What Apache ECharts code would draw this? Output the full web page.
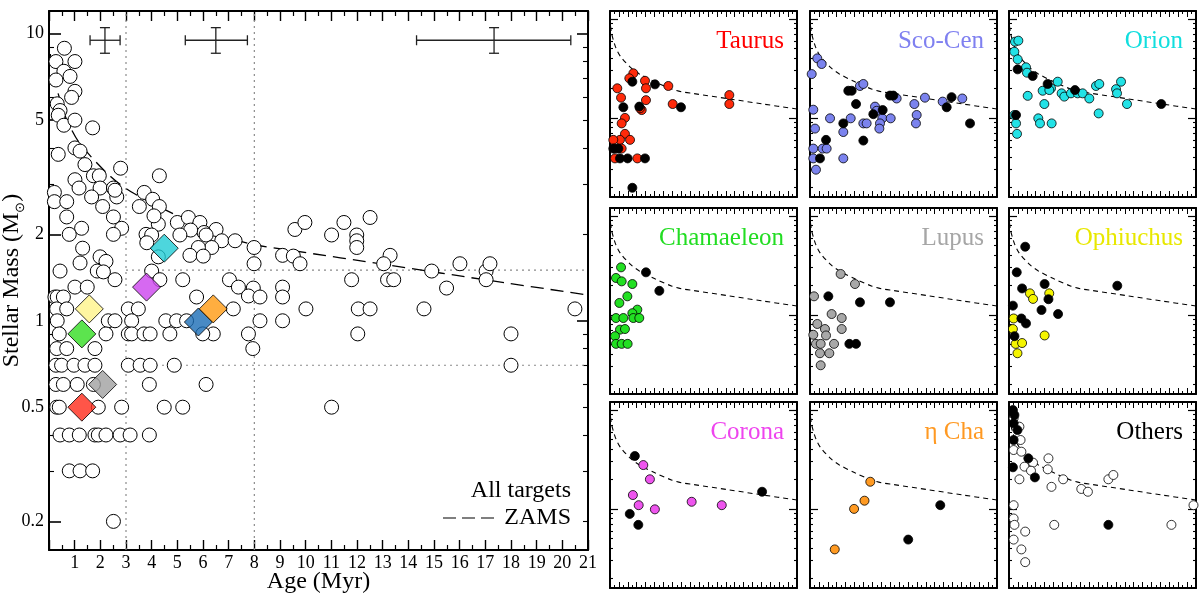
<!DOCTYPE html>
<html><head><meta charset="utf-8">
<script src="https://cdn.jsdelivr.net/npm/echarts@6/dist/echarts.min.js"></script>
<style>html,body{margin:0;padding:0;background:#fff}#c{width:1200px;height:600px}</style>
</head><body><div id="c"></div>
<script>
// ---------------- data ----------------
const xTickLabels = [1,2,3,4,5,6,7,8,9,10,11,12,13,14,15,16,17,18,19,20,21];
const yTickLabels = [0.2,0.5,1,2,5,10];
const yDecadeTicks = [1,10];
const yMinorTicks = [0.2,0.3,0.4,0.5,0.6,0.7,0.8,0.9,2,3,4,5,6,7,8,9];

// ZAMS curve (age Myr, mass Msun)
const zamsAge  = [0.05,0.2,0.45,0.7,1.2,2.4,3.3,5.1,6.9,8.0,9.4,13.3,17.2,21];
const zamsMass = [8.5,7.0,5.8,5.0,4.15,3.18,2.78,2.30,1.96,1.84,1.76,1.56,1.38,1.23];

// typical error bars: [age, mass, ageLo, ageHi, massLo, massHi]
const errorBars = [
  [2.18,9.49,1.60,2.77,8.55,10.5],
  [6.50,9.49,5.31,7.73,8.55,10.5],
  [17.34,9.49,14.32,20.33,8.55,10.5]
];

// all targets (age, mass)
const allTargets = [
 [0.60,8.9],[0.27,8.0],[1.01,8.0],[0.58,7.4],[0.82,7.1],[0.27,6.9],[1.01,6.3],[0.88,6.0],[0.32,5.7],[0.43,5.4],
 [0.36,5.2],[0.58,4.8],[1.01,5.0],[1.70,4.7],[0.36,3.8],[1.01,4.0],[1.21,3.9],[1.40,3.5],[2.79,3.4],[1.73,3.2],
 [1.96,3.2],[4.30,3.2],[1.01,3.1],[1.17,2.9],[1.99,2.9],[2.51,2.9],[2.64,2.7],[0.21,2.8],[0.21,2.6],[0.69,2.6],
 [1.66,2.7],[2.09,2.5],[2.57,2.85],[3.71,2.8],[4.04,2.65],[3.52,2.5],[0.69,2.3],[2.51,2.3],[1.27,2.1],[2.83,2.1],
 [0.79,2.0],[2.51,2.0],[3.78,2.0],[4.26,2.17],[4.30,2.5],[4.09,2.32],[5.00,2.2],[5.43,2.29],[5.88,2.2],[6.51,2.08],
 [6.04,2.03],[5.52,2.07],[5.10,1.99],[4.00,1.99],[3.81,1.87],[6.12,1.99],[6.73,1.9],[7.25,1.9],[6.34,1.8],[5.82,1.8],
 [5.49,1.69],[6.01,1.68],[4.26,1.67],[7.99,1.8],[7.99,1.58],[9.10,1.69],[9.52,1.68],[9.58,2.08],[1.31,1.79],[1.99,1.67],
 [2.22,1.61],[1.21,1.59],[0.43,1.49],[1.88,1.49],[2.12,1.48],[2.57,1.39],[4.00,1.49],[4.32,1.39],[5.21,1.39],[7.03,1.39],
 [7.38,1.31],[7.96,1.3],[9.10,1.31],[7.77,1.22],[1.01,1.31],[1.49,1.31],[0.23,1.21],
 [0.32,1.21],[0.56,1.21],[0.30,1.1],[0.69,1.1],[3.09,1.1],[3.48,1.1],[0.32,1.0],[2.31,1.0],[2.57,1.0],[3.22,1.0],
 [4.55,1.0],[4.97,1.0],[5.36,1.0],[8.22,1.0],[9.10,1.0],
 [0.40,0.9],[2.22,0.9],[3.09,0.9],[3.22,0.9],[3.70,0.9],[3.94,0.9],[4.71,0.9],[6.40,0.9],[5.99,0.9],[7.77,0.9],
 [0.30,0.8],[0.69,0.8],[1.79,0.8],[7.94,0.8],
 [0.27,0.7],[0.49,0.7],[0.97,0.7],[1.40,0.7],[1.79,0.7],[3.09,0.7],[3.55,0.7],[3.94,0.7],[4.88,0.7],
 [0.27,0.6],[0.56,0.6],[1.10,0.6],[1.73,0.6],[3.91,0.6],[6.12,0.6],
 [0.30,0.5],[0.40,0.5],[1.92,0.5],[2.83,0.5],[4.49,0.5],[5.21,0.5],
 [0.43,0.4],[0.79,0.4],[1.18,0.4],[1.79,0.4],[1.92,0.4],[2.22,0.4],[2.77,0.4],[3.16,0.4],[3.91,0.4],
 [0.79,0.3],[1.21,0.3],[1.70,0.3],[2.51,0.2],
 [5.75,1.21],[8.22,1.21],[9.10,1.21],[7.18,1.1],
 [9.78,1.58],[9.97,2.2],[11.01,1.99],[11.49,2.2],[11.99,1.99],[11.99,1.9],[11.99,1.8],[12.51,2.29],[13.29,1.69],[13.04,1.58],
 [13.19,1.39],[13.43,1.39],[11.79,1.39],[14.91,1.49],[15.49,1.3],[16.01,1.58],[17.03,1.49],[17.18,1.58],[17.03,1.39],
 [10.01,1.1],[12.05,1.1],[12.51,1.1],[14.61,1.1],[20.49,1.1],[12.03,0.9],[18.0,0.9],[18.0,0.7],[11.01,0.5]
];

// region medians (diamonds): name, age, mass
const medianNames = ['Orion','Corona','Ophiuchus','Chamaeleon','Sco-Cen','η Cha','Lupus','Taurus'];
const medianAge   = [4.49,3.80,1.57,1.28,5.82,6.40,2.09,1.28];
const medianMass  = [1.79,1.31,1.10,0.90,0.99,1.10,0.60,0.50];

// per-region members (coloured) and black points
const taurusColored = [[2.62,2.82],[2.17,2.51],[3.93,2.37],[4.04,1.99],[0.82,1.99],[6.55,2.10],[1.24,1.60],[4.04,1.51],[7.04,1.38],[3.56,1.20],[1.68,1.0],[1.31,0.88],[1.68,0.69],[1.12,0.60],[2.25,0.60],[0.37,0.60],[0.56,0.49],[1.31,0.49],[0.56,0.39],[3.07,0.39],[13.4,1.70],[13.4,1.38],[3.37,1.25]];
const taurusBlack = [[2.51,2.32],[5.05,2.18],[1.50,1.28],[3.29,1.30],[7.97,1.28],[0.37,0.49],[0.94,0.49],[1.12,0.39],[1.98,0.39],[3.93,0.39],[2.51,0.197]];
const scoCenColored = [[0.82,3.99],[1.31,3.50],[0.19,2.77],[5.61,2.10],[5.99,2.20],[9.73,1.57],[11.72,1.38],[12.91,1.60],[14.9,1.46],[17.1,1.57],[0.37,1.21],[2.25,0.99],[4.57,0.99],[3.74,0.72],[5.99,0.88],[6.36,0.88],[7.30,1.30],[7.49,1.18],[8.12,0.99],[7.86,0.88],[7.79,0.78],[9.06,0.99],[11.98,1.07],[11.9,0.88],[0.56,0.78],[0.37,0.49],[1.42,0.49],[1.87,0.49],[0.37,0.39],[0.67,0.30],[3.74,0.39]];
const scoCenBlack = [[4.30,1.88],[4.68,1.88],[5.17,1.38],[8.98,1.68],[9.36,1.68],[15.9,1.62],[15.35,1.28],[3.74,0.88],[7.11,1.09],[8.16,1.20],[1.80,0.60],[5.99,0.59],[1.12,0.39],[17.97,0.88]];
const orionColored = [[0.67,5.88],[1.05,6.02],[0.60,4.66],[0.97,3.90],[1.91,3.24],[2.02,2.86],[5.47,2.32],[4.72,1.99],[3.78,1.88],[3.97,1.38],[4.53,1.91],[5.91,1.77],[6.21,1.64],[6.96,1.77],[7.71,1.77],[8.27,1.77],[9.02,1.57],[9.77,2.10],[10.14,2.20],[10.07,1.11],[12.02,1.95],[12.58,2.32],[12.13,1.77],[13.25,1.38],[3.29,0.99],[3.48,0.88],[4.79,0.88],[2.10,1.67],[0.79,0.88],[0.90,0.69],[0.60,1.07]];
const orionBlack = [[0.97,3.09],[2.66,2.65],[4.34,2.20],[7.41,1.91],[17.1,1.38],[0.79,1.07]];
const chamColored = [[1.24,3.02],[0.67,2.36],[1.31,2.18],[2.51,2.05],[1.95,1.54],[1.05,1.32],[3.07,1.13],[2.51,1.04],[2.62,0.93],[3.29,0.93],[0.67,0.93],[1.50,0.93],[1.12,0.71],[1.68,0.72],[0.56,0.61],[0.67,0.51],[1.31,0.51],[1.98,0.51]];
const chamBlack = [[4.04,2.69],[5.54,1.75]];
const lupusColored = [[3.44,2.59],[5.05,2.05],[0.45,1.54],[2.43,1.02],[3.56,0.93],[0.82,0.81],[3.56,0.72],[1.68,0.72],[0.37,0.63],[1.80,0.62],[0.67,0.51],[1.20,0.51],[2.70,0.51],[1.12,0.41],[2.17,0.41],[1.20,0.31]];
const lupusBlack = [[2.06,1.54],[5.61,1.34],[8.98,1.34],[4.42,0.51],[5.17,0.51]];
const ophColored = [[0.52,0.92],[0.44,0.72],[0.74,0.51],[0.95,0.41],[1.47,0.52],[2.35,1.65],[2.70,1.45],[4.52,1.65],[4.00,0.62]];
const ophBlack = [[1.82,4.88],[0.87,2.69],[1.47,1.85],[4.00,2.05],[0.44,1.24],[3.65,1.12],[4.43,1.44],[5.51,1.02],[1.39,0.92],[1.91,0.82],[0.61,0.61],[12.16,1.97]];
const coronaColored = [[3.74,2.77],[4.48,1.99],[2.57,1.38],[3.22,1.09],[5.04,0.99],[9.17,1.18],[12.55,1.09]];
const coronaBlack = [[2.79,3.42],[17.08,1.49],[2.22,0.89],[3.18,0.69]];
const etaChaColored = [[6.77,1.88],[6.12,1.21],[4.95,1.0],[2.78,0.39]];
const etaChaBlack = [[14.63,1.09],[11.03,0.49]];
const othersColored = [[0.52,8.21],[1.17,6.76],[1.30,4.96],[0.52,3.93],[1.39,3.78],[2.70,2.93],[4.43,3.24],[1.74,2.67],[2.47,2.43],[4.35,2.51],[1.17,1.99],[4.77,1.67],[6.08,1.99],[8.12,1.59],[8.86,1.49],[11.16,1.99],[11.72,2.20],[20.72,1.09],[0.52,1.09],[0.52,0.80],[0.61,0.69],[1.82,0.59],[0.52,0.49],[1.39,0.39],[1.82,0.29],[5.08,0.69],[18.24,0.69]];
const othersBlack = [[0.44,9.96],[0.61,8.87],[0.52,7.31],[0.95,6.25],[0.52,4.96],[2.17,3.24],[0.44,2.63],[2.91,2.08],[11.16,0.69]];

// ---------------- styling / layout ----------------
const FONT = 'Liberation Serif';
const X_MIN = 0, X_MAX = 21, Y_MIN = 0.159, Y_MAX = 12;
const panels = [
  {name:'Taurus',     fill:'#ff2a0a', text:'#ff0000', pts:taurusColored, blk:taurusBlack},
  {name:'Sco-Cen',    fill:'#7b83ee', text:'#7f80f0', pts:scoCenColored, blk:scoCenBlack},
  {name:'Orion',      fill:'#22e2e6', text:'#11dede', pts:orionColored,  blk:orionBlack},
  {name:'Chamaeleon', fill:'#22e022', text:'#22dd22', pts:chamColored,   blk:chamBlack},
  {name:'Lupus',      fill:'#a8a8a8', text:'#a6a6a6', pts:lupusColored,  blk:lupusBlack},
  {name:'Ophiuchus',  fill:'#f4f400', text:'#e8e800', pts:ophColored,    blk:ophBlack},
  {name:'Corona',     fill:'#ee55ee', text:'#ee44ee', pts:coronaColored, blk:coronaBlack},
  {name:'η Cha',      fill:'#ff9a22', text:'#ff9922', pts:etaChaColored, blk:etaChaBlack},
  {name:'Others',     fill:'#ffffff', text:'#000000', pts:othersColored, blk:othersBlack}
];
const medianColors = ['#20ccd4','#cc44ee','#fff48a','#33dd22','#1a6db5','#ff9a10','#a0a0a0','#ff2a1a'];

const grids = [{left:49, top:11, width:539, height:539, outerBoundsMode:'none', containLabel:false}];
const colL = [610, 810, 1009], rowT = [11, 208, 402];
for (let r=0;r<3;r++) for (let c=0;c<3;c++) grids.push({left:colL[c], top:rowT[r], width:187, height:186, outerBoundsMode:'none', containLabel:false});

const xAxes = [], yAxes = [], series = [], graphics = [];
const line = (w)=>({show:true, onZero:false, lineStyle:{color:'#000', width:w}});

grids.forEach((g, gi) => {
  const main = gi === 0;
  const xBase = {type:'value', gridIndex:gi, min:X_MIN, max:X_MAX, interval:1,
    axisLine: line(2),
    axisTick:{show:true, inside:true, length: main?10:6, lineStyle:{color:'#000', width: main?1.4:1}},
    minorTick:{show:true, splitNumber:2, length: main?5:3, lineStyle:{color:'#000', width: main?1.2:1}},
    splitLine:{show:false}, minorSplitLine:{show:false}};
  xAxes.push(Object.assign({}, xBase, {position:'bottom',
    axisLabel: main ? {show:true, fontFamily:FONT, fontSize:18, color:'#000', margin:4,
      formatter: v => xTickLabels.includes(v) ? String(v) : ''} : {show:false},
    name: main ? 'Age (Myr)' : '', nameLocation:'middle', nameGap:20, nameMoveOverlap:false,
    nameTextStyle:{fontFamily:FONT, fontSize:24, color:'#000'}}));
  xAxes.push(Object.assign({}, xBase, {position:'top', axisLabel:{show:false}}));

  const yBase = {type:'log', logBase:10, gridIndex:gi, min:Y_MIN, max:Y_MAX,
    splitLine:{show:false}, minorTick:{show:false}, axisLabel:{show:false}};
  const majL = main ? yTickLabels : yDecadeTicks;
  const minL = yMinorTicks.filter(v => !majL.includes(v));
  const minR = yMinorTicks.filter(v => !yDecadeTicks.includes(v));
  yAxes.push(Object.assign({}, yBase, {position:'left', axisLine: line(2),
    axisTick:{show:true, inside:true, length: main?12:8, customValues: majL, lineStyle:{color:'#000', width: main?1.6:1.2}},
    axisLabel: main ? {show:true, customValues: yTickLabels, fontFamily:FONT, fontSize:18, color:'#000', margin:5,
      formatter: v => String(v)} : {show:false},
    name: main ? '{a|Stellar Mass (M}{s|⊙}{a|)}' : '', nameLocation:'middle', nameGap:22, nameMoveOverlap:false,
    nameTextStyle:{fontFamily:FONT, fontSize:24, color:'#000',
      rich:{a:{fontFamily:FONT, fontSize:24, color:'#000', lineHeight:30, verticalAlign:'middle'},
            s:{fontFamily:FONT, fontSize:13, color:'#000', lineHeight:30, verticalAlign:'bottom'}}}}));
  yAxes.push(Object.assign({}, yBase, {position:'left', axisLine:{show:false, onZero:false},
    axisTick:{show:true, inside:true, length: main?5:3, customValues: minL, lineStyle:{color:'#000', width:1.1}}}));
  yAxes.push(Object.assign({}, yBase, {position:'right', axisLine: line(2),
    axisTick:{show:true, inside:true, length: main?11:8, customValues: yDecadeTicks, lineStyle:{color:'#000', width: main?1.6:1.2}}}));
  yAxes.push(Object.assign({}, yBase, {position:'right', axisLine:{show:false, onZero:false},
    axisTick:{show:true, inside:true, length: main?5:3, customValues: minR, lineStyle:{color:'#000', width:1.1}}}));

  const xi = gi*2, yi = gi*4;
  // ZAMS
  series.push({type:'line', xAxisIndex:xi, yAxisIndex:yi, data: zamsAge.map((a,i)=>[a, zamsMass[i]]),
    showSymbol:false, symbol:'none', smooth:0.3, silent:true, z:3,
    lineStyle:{color:'#000', width: main?1.3:1.1, type: main?[13,7]:[5,4]}});

  if (main) {
    const dot = {color:'#8a8a8a', width:1.2, type:[2,4]};
    [[[3,Y_MIN],[3,Y_MAX]], [[8,Y_MIN],[8,Y_MAX]], [[3,1.5],[21,1.5]], [[3,0.7],[21,0.7]]].forEach(d => {
      series.push({type:'line', xAxisIndex:xi, yAxisIndex:yi, data:d, symbol:'none', silent:true, z:2, lineStyle:dot});
    });
    series.push({type:'scatter', xAxisIndex:xi, yAxisIndex:yi, data: allTargets, symbol:'circle', symbolSize:14, z:4,
      itemStyle:{color:'#fff', borderColor:'#000', borderWidth:1, opacity:1}});
    series.push({type:'scatter', xAxisIndex:xi, yAxisIndex:yi, symbol:'diamond', symbolSize:[28,28], z:5,
      data: medianAge.map((a,i)=>({name:medianNames[i], value:[a, medianMass[i]],
        itemStyle:{color:medianColors[i], borderColor:'#000', borderWidth:1}}))});
    series.push({type:'custom', xAxisIndex:xi, yAxisIndex:yi, data: errorBars, z:6,
      renderItem(params, api){
        const x=api.value(0), y=api.value(1);
        const l=api.coord([api.value(2),y]), r=api.coord([api.value(3),y]);
        const b=api.coord([x,api.value(4)]), t=api.coord([x,api.value(5)]);
        const cap=5, st={stroke:'#222', lineWidth:1.3};
        const seg=(x1,y1,x2,y2)=>({type:'line', shape:{x1,y1,x2,y2}, style:st});
        return {type:'group', children:[
          seg(l[0],l[1],r[0],r[1]), seg(l[0],l[1]-cap,l[0],l[1]+cap), seg(r[0],r[1]-cap,r[0],r[1]+cap),
          seg(b[0],b[1],t[0],t[1]), seg(b[0]-cap,b[1],b[0]+cap,b[1]), seg(t[0]-cap,t[1],t[0]+cap,t[1])
        ]};
      }});
  } else {
    const p = panels[gi-1];
    series.push({type:'scatter', xAxisIndex:xi, yAxisIndex:yi, data:p.pts, symbol:'circle', symbolSize:9, z:4,
      itemStyle:{color:p.fill, borderColor:'#000', borderWidth:0.8, opacity:1}});
    series.push({type:'scatter', xAxisIndex:xi, yAxisIndex:yi, data:p.blk, symbol:'circle', symbolSize:9, z:5,
      itemStyle:{color:'#000', borderColor:'#000', borderWidth:0.8, opacity:1}});
    graphics.push({type:'text', x:g.left+g.width-13, y:g.top+30, z:10,
      style:{text:p.name, fill:p.text, font:'25px "Liberation Serif"', textAlign:'right', textVerticalAlign:'middle'}});
  }
});

graphics.push({type:'text', x:571, y:491, z:10,
  style:{text:'All targets', fill:'#000', font:'24px "Liberation Serif"', textAlign:'right', textVerticalAlign:'middle'}});
graphics.push({type:'text', x:571, y:518, z:10,
  style:{text:'ZAMS', fill:'#000', font:'24px "Liberation Serif"', textAlign:'right', textVerticalAlign:'middle'}});
graphics.push({type:'line', z:10, shape:{x1:443, y1:518, x2:494, y2:518},
  style:{stroke:'#000', lineWidth:1.2, lineDash:[13,6]}});

const chart = echarts.init(document.getElementById('c'), null, {renderer:'canvas'});
chart.setOption({animation:false, backgroundColor:'#fff', grid:grids, xAxis:xAxes, yAxis:yAxes, series, graphic:graphics});
</script></body></html>
